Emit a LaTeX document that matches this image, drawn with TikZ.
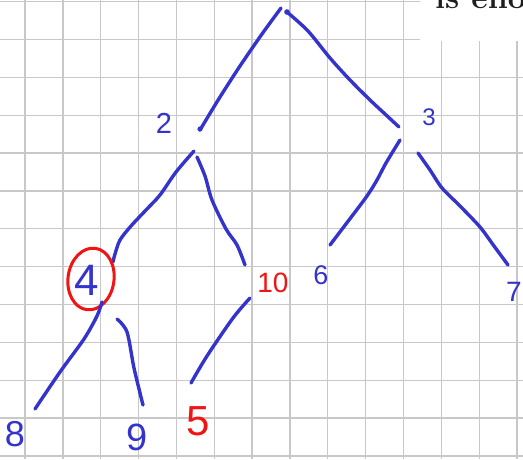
\documentclass[tikz,border=0pt]{standalone}
\usepackage{fontspec}
\newfontfamily\handfont{Liberation Sans}
\definecolor{penblue}{RGB}{52,52,204}
\definecolor{penred}{RGB}{240,20,20}
\definecolor{gridgray}{RGB}{200,200,200}
\tikzset{
  stroke/.style={draw=penblue, line width=3.4pt, line cap=round, line join=round},
  redstroke/.style={draw=penred, line width=3pt, line cap=round, line join=round},
  lab/.style={inner sep=0pt, text=penblue, font=\handfont},
  redlab/.style={inner sep=0pt, text=penred, font=\handfont},
}
\newcommand{\fs}[1]{\fontsize{#1}{#1}\selectfont}
\begin{document}
\begin{tikzpicture}[x=1pt,y=-1pt]
\useasboundingbox (0,0) rectangle (523,459);
\begin{scope}
\clip (0,0) rectangle (523,459);
\fill[white] (0,0) rectangle (523,459);
% grid
\foreach \k in {0,...,13} \draw[gridgray, line width=1.3pt] ({25+37.85*\k},0) -- ({25+37.85*\k},459);
\foreach \k in {0,...,12} \draw[gridgray, line width=1.3pt] (0,{1.7+37.85*\k}) -- (523,{1.7+37.85*\k});
% white box with cut text
\fill[white] (420,0) rectangle (523,41);
\node[anchor=base west, inner sep=0pt, text={rgb,255:red,30;green,30;blue,30}, font=\bfseries\fs{32}] (txt) at (435,8) {is enough};
\end{scope}
% root edges
\draw[stroke] plot[smooth] coordinates {(281,8) (262,34) (240,66) (220,97) (206,120) (200,130)};
\fill[penblue] (200,129) circle (2.6);
\fill[penblue] (287,12) circle (2.8);
\draw[stroke] plot[smooth] coordinates {(287,12) (308,31) (330,58) (350,80) (370,100) (385,114) (399,127)};
% node 2
\node[lab, font=\handfont\fs{29}] (n2) at (164,123) {2};
\draw[stroke] plot[smooth] coordinates {(194,151) (176,172) (160,195) (146,210) (131,226) (120,240) (115,254) (113,262)};
\draw[stroke] plot[smooth] coordinates {(197,157) (205,176) (212,200) (226,229) (237,245) (245,265)};
% node 3
\node[lab, font=\handfont\fs{24}] (n3) at (429,117) {3};
\draw[stroke] plot[smooth] coordinates {(400,140) (386,163) (377,180) (367,196) (349,220) (330,245)};
\draw[stroke] plot[smooth] coordinates {(418,153) (430,170) (442,188) (460,206) (480,227) (494,246) (508,265)};
% node 4
\node[lab, font=\handfont\fs{44}] (n4) at (87,280) {4};
\draw[redstroke, rotate around={-8:(91,279)}] (91,279) ellipse (23 and 31);
\draw[stroke] plot[smooth] coordinates {(102,302) (97,316) (84,339) (60,372) (35,409)};
\draw[stroke] plot[smooth] coordinates {(117,319) (127,332) (134,368) (143,405)};
% leaves
\node[lab, font=\handfont\fs{36}] (n8) at (15,434) {8};
\node[lab, font=\handfont\fs{38}] (n9) at (137,437) {9};
\node[redlab, font=\handfont\fs{28}] (n10) at (273,283) {10};
\draw[stroke] plot[smooth] coordinates {(250,298) (233,318) (207,356) (191,383)};
\node[redlab, font=\handfont\fs{42}] (n5) at (198,421) {5};
\node[lab, font=\handfont\fs{27}] (n6) at (321,275) {6};
\node[lab, font=\handfont\fs{28}] (n7) at (514,292) {7};
\end{tikzpicture}
\end{document}
